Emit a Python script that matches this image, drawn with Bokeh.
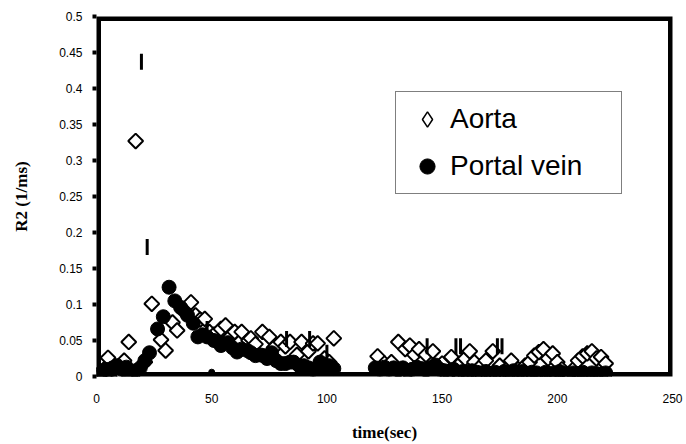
import math
from bokeh.plotting import figure
from bokeh.models import ColumnDataSource, FixedTicker, Legend, LegendItem
from bokeh.embed import file_html
from bokeh.resources import INLINE

# R2 relaxation rate over time, sampled in the aorta and the portal vein
aorta_t = [2, 4, 5, 7, 9, 11, 12, 14, 17, 21,
           24, 28, 30, 33, 35, 38, 41, 43, 45, 47,
           49, 51, 54, 56, 58, 60, 63, 66, 67, 69,
           72, 75, 77, 80, 82, 84, 87, 89, 92, 94,
           96, 99, 101, 103,
           122, 125, 128, 131, 134, 136, 138, 140, 143, 146,
           150, 154, 157, 160, 162, 164, 167, 169, 172, 175,
           178, 180, 183, 186, 188, 190, 192, 194, 196, 198,
           200, 202, 205, 207, 209, 211, 213, 215, 217, 219, 221]
aorta_r2 = [0.004, 0.012, 0.026, 0.010, 0.003, 0.018, 0.022, 0.048, 0.327, 0.020,
            0.101, 0.051, 0.036, 0.075, 0.064, 0.090, 0.103, 0.085, 0.079, 0.080,
            0.062, 0.058, 0.066, 0.071, 0.055, 0.062, 0.062, 0.050, 0.053, 0.045,
            0.062, 0.055, 0.040, 0.048, 0.042, 0.048, 0.030, 0.048, 0.035, 0.046,
            0.046, 0.025, 0.020, 0.053,
            0.028, 0.018, 0.020, 0.048, 0.038, 0.043, 0.030, 0.038, 0.030, 0.035,
            0.018, 0.027, 0.015, 0.025, 0.035, 0.020, 0.015, 0.022, 0.035, 0.015,
            0.010, 0.022, 0.010, 0.015, 0.020, 0.029, 0.034, 0.038, 0.025, 0.032,
            0.020, 0.010, 0.003, 0.010, 0.022, 0.028, 0.032, 0.035, 0.025, 0.027, 0.018]

portal_t = [0, 2, 4, 6, 7, 9, 11, 13, 15, 17,
            19, 21, 23, 26.5, 29, 31.5, 34, 36.5, 39.5, 42,
            44, 46, 48, 51, 53, 54, 57, 59, 61, 63,
            65.5, 67, 69, 71, 72.5, 74, 76, 78, 80, 82,
            84, 85.5, 88, 90, 92, 94, 97, 99, 101, 103,
            121, 123, 125, 127, 129, 131, 133, 135, 137, 139,
            141, 143, 145, 147, 149, 151, 153, 155, 157, 159,
            161, 163, 165, 167, 169, 171, 173, 175, 177, 179,
            181, 183, 185, 187, 189, 191, 193, 195, 197, 199,
            201, 203, 205, 207, 209, 211, 213, 215, 217, 219, 221]
portal_r2 = [0.002, 0.005, 0.010, 0.003, 0.012, 0.015, 0.010, 0.013, 0.004, 0.008,
             0.012, 0.022, 0.033, 0.066, 0.083, 0.124, 0.105, 0.096, 0.085, 0.074,
             0.055, 0.058, 0.055, 0.050, 0.048, 0.043, 0.047, 0.040, 0.034, 0.038,
             0.036, 0.033, 0.029, 0.030, 0.029, 0.025, 0.033, 0.022, 0.018, 0.018,
             0.020, 0.020, 0.015, 0.015, 0.012, 0.010, 0.020, 0.013, 0.015, 0.011,
             0.012, 0.010, 0.013, 0.010, 0.012, 0.009, 0.012, 0.008, 0.010, 0.013,
             0.011, 0.009, 0.012, 0.016, 0.010, 0.008, 0.006, 0.010, 0.005, 0.007,
             0.005, 0.008, 0.006, 0.005, 0.007, 0.004, 0.006, 0.004, 0.007, 0.005,
             0.008, 0.005, 0.007, 0.004, 0.006, 0.005, 0.003, 0.006, 0.004, 0.005,
             0.007, 0.004, 0.003, 0.005, 0.004, 0.006, 0.003, 0.005, 0.004, 0.003, 0.005]

# third, unlabelled series drawn as vertical dashes
dash_t = [19.5, 22, 48, 82.5, 92.5, 100, 143.5, 156, 158, 174, 176]
dash_r2 = [0.437, 0.180, 0.066, 0.052, 0.052, 0.033, 0.042, 0.042, 0.042, 0.042, 0.042]
dot_t = [50]
dot_r2 = [0.006]

x_lim = (0, 250)
y_lim = (0, 0.5)
x_ticks = [0, 50, 100, 150, 200, 250]
y_ticks = [0, 0.05, 0.1, 0.15, 0.2, 0.25, 0.3, 0.35, 0.4, 0.45, 0.5]
y_tick_labels = ["0", "0.05", "0.1", "0.15", "0.2", "0.25", "0.3", "0.35", "0.4", "0.45", "0.5"]

p = figure(frame_width=576, frame_height=360, output_backend="svg", toolbar_location=None,
           x_range=x_lim, y_range=y_lim,
           min_border_left=96, min_border_right=14, min_border_top=16, min_border_bottom=68)
p.xgrid.grid_line_color = None
p.ygrid.grid_line_color = None
p.outline_line_color = None
p.background_fill_color = "white"
p.border_fill_color = "white"

p.xaxis.ticker = FixedTicker(ticks=x_ticks)
p.yaxis.ticker = FixedTicker(ticks=y_ticks)
p.yaxis.major_label_overrides = {t: s for t, s in zip(y_ticks, y_tick_labels)}

for ax in (p.xaxis[0], p.yaxis[0]):
    ax.axis_line_color = None
    ax.minor_tick_line_color = None
    ax.major_label_text_font = "Liberation Sans"
    ax.major_label_text_font_size = "12px"
    ax.major_label_text_color = "black"
    ax.axis_label_text_font = "Liberation Serif"
    ax.axis_label_text_font_style = "bold"
    ax.axis_label_text_font_size = "17px"
    ax.axis_label_text_color = "black"

p.xaxis.major_tick_line_color = None
p.xaxis.major_label_standoff = 11
p.xaxis.axis_label = "time(sec)"
p.xaxis.axis_label_standoff = 17

p.yaxis.major_tick_line_width = 4
p.yaxis.major_tick_line_color = "black"
p.yaxis.major_tick_out = 4
p.yaxis.major_tick_in = 0
p.yaxis.major_label_standoff = 10
p.yaxis.axis_label = "R2 (1/ms)"
p.yaxis.axis_label_standoff = 25

# heavy black frame along the limits of the plotting area (clipped to the frame)
p.quad(left=x_lim[0], right=x_lim[1], bottom=y_lim[0], top=y_lim[1],
       fill_color=None, line_color="black", line_width=9)

src_a = ColumnDataSource(dict(t=aorta_t, r2=aorta_r2))
src_p = ColumnDataSource(dict(t=portal_t, r2=portal_r2))
src_d = ColumnDataSource(dict(t=dash_t, r2=dash_r2))
src_o = ColumnDataSource(dict(t=dot_t, r2=dot_r2))

p.scatter("t", "r2", source=src_a, marker="square", angle=math.pi / 4,
          size=10.5, fill_color="white", line_color="black", line_width=2)
r_p = p.scatter("t", "r2", source=src_p, marker="circle", size=14,
                fill_color="black", line_color="black")
p.scatter("t", "r2", source=src_d, marker="dash", angle=math.pi / 2,
          size=16, line_color="black", line_width=3)
p.scatter("t", "r2", source=src_o, marker="circle", size=6,
          fill_color="black", line_color="black")

# legend key for the aorta series (open diamond); its single point is NaN so only the key shows
key_a = p.scatter(x=[float("nan")], y=[float("nan")], marker="diamond", fill_color="white",
                  line_color="black", line_width=1.5)

legend = Legend(items=[LegendItem(label="Aorta", renderers=[key_a]),
                       LegendItem(label="Portal vein", renderers=[r_p])],
                location=(299, 182))
legend.label_text_font = "Liberation Sans"
legend.label_text_font_size = "28px"
legend.label_text_color = "black"
legend.border_line_color = "black"
legend.border_line_width = 1.5
legend.background_fill_color = "white"
legend.background_fill_alpha = 1
legend.padding = 8
legend.spacing = 9
legend.glyph_height = 38
legend.glyph_width = 46
legend.label_height = 38
legend.label_width = 163
legend.label_standoff = 0
legend.margin = 0
p.add_layout(legend)

open("out.html", "w").write(file_html(p, INLINE))
